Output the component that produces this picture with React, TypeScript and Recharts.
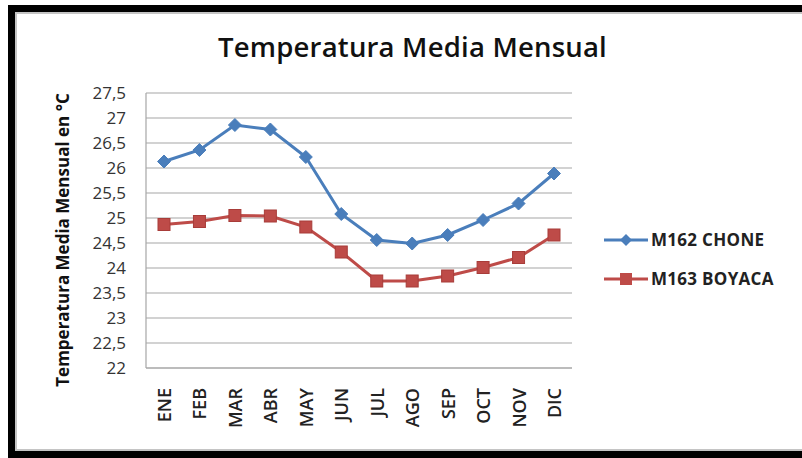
import React from "react";
import { LineChart, Line, XAxis, YAxis, CartesianGrid } from "recharts";

const months = ["ENE", "FEB", "MAR", "ABR", "MAY", "JUN", "JUL", "AGO", "SEP", "OCT", "NOV", "DIC"];
const chone = [26.13, 26.36, 26.86, 26.77, 26.22, 25.08, 24.56, 24.49, 24.66, 24.96, 25.29, 25.89];
const boyaca = [24.87, 24.93, 25.05, 25.04, 24.82, 24.32, 23.74, 23.74, 23.84, 24.01, 24.21, 24.66];
const yTicks = [22, 22.5, 23, 23.5, 24, 24.5, 25, 25.5, 26, 26.5, 27, 27.5];
const seriesNames = ["M162 CHONE", "M163 BOYACA"];

const data = months.map((m, i) => ({ month: m, chone: chone[i], boyaca: boyaca[i] }));

const BLUE = "#4a7ebb";
const RED = "#be4b48";
const FONT = "'Open Sans', Lato, sans-serif";

const Diamond = (props: any) => {
  const { cx, cy } = props;
  if (cx == null || cy == null) return null;
  const r = 6.5;
  return (
    <polygon
      points={`${cx},${cy - r} ${cx + r},${cy} ${cx},${cy + r} ${cx - r},${cy}`}
      fill={BLUE}
      stroke={BLUE}
      strokeWidth={1}
    />
  );
};

const Square = (props: any) => {
  const { cx, cy } = props;
  if (cx == null || cy == null) return null;
  const s = 12;
  return <rect x={cx - s / 2} y={cy - s / 2} width={s} height={s} fill={RED} stroke="#a83c39" strokeWidth={1} />;
};

const XTick = (props: any) => {
  const { x, y, payload } = props;
  return (
    <text
      x={x}
      y={y}
      transform={`rotate(-90, ${x}, ${y})`}
      textAnchor="end"
      dominantBaseline="central"
      fontFamily={FONT}
      fontSize={18}
      fontWeight={600}
      fill="#222"
    >
      {payload.value}
    </text>
  );
};

const fmt = (v: number) => String(v).replace(".", ",");

const LegendBox = () => (
  <div
    style={{
      position: "absolute",
      left: 603,
      top: 220,
      fontFamily: FONT,
      fontWeight: 700,
      fontSize: 17,
      letterSpacing: 0.3,
      color: "#222",
    }}
  >
    {seriesNames.map((n, i) => (
      <div key={n} style={{ display: "flex", alignItems: "center", height: 39 }}>
        <svg width={46} height={14} style={{ marginRight: 2 }}>
          <line x1={1} y1={7} x2={45} y2={7} stroke={i === 0 ? BLUE : RED} strokeWidth={3} />
          {i === 0 ? (
            <polygon points="23,1 29,7 23,13 17,7" fill={BLUE} />
          ) : (
            <rect x={17} y={1} width={12} height={12} fill={RED} />
          )}
        </svg>
        <span>{n}</span>
      </div>
    ))}
  </div>
);

export default function App() {
  return (
    <div style={{ position: "fixed", left: 0, top: 0, width: 802, height: 458, overflow: "hidden", background: "#fff" }}>
      <div
        style={{
          position: "absolute",
          left: 8,
          top: 5,
          width: 820,
          height: 453,
          boxSizing: "border-box",
          border: "7px solid #000",
        }}
      >
        <div style={{ width: "100%", height: "100%", boxSizing: "border-box", border: "2px solid #c4c4c4" }} />
      </div>
      <div
        style={{
          position: "absolute",
          left: 218,
          top: 29,
          whiteSpace: "nowrap",
          fontFamily: FONT,
          fontSize: 27.5,
          fontWeight: 600,
          letterSpacing: 0.2,
          lineHeight: "36px",
          color: "#111",
        }}
      >
        Temperatura Media Mensual
      </div>
      <div style={{ position: "absolute", left: 0, top: 0 }}>
        <LineChart width={802} height={458} data={data} margin={{ top: 93, right: 230, bottom: 0, left: 0 }}>
          <CartesianGrid vertical={false} stroke="#a6a6a6" strokeWidth={1.2} />
          <XAxis
            dataKey="month"
            height={90}
            interval={0}
            padding={{ left: 18, right: 18 }}
            tick={<XTick />}
            tickLine={false}
            tickSize={0}
            tickMargin={20}
            axisLine={{ stroke: "#a6a6a6", strokeWidth: 1.2 }}
          />
          <YAxis
            width={146}
            domain={[22, 27.5]}
            ticks={yTicks}
            interval={0}
            tickFormatter={fmt}
            tickLine={false}
            tickSize={0}
            tickMargin={20}
            axisLine={{ stroke: "#a6a6a6", strokeWidth: 1.2 }}
            tick={{ fontFamily: FONT, fontSize: 17, fill: "#333" }}
            label={{
              content: () => (
                <text
                  x={62}
                  y={240}
                  transform="rotate(-90, 62, 240)"
                  textAnchor="middle"
                  dominantBaseline="central"
                  fontFamily={FONT}
                  fontWeight={700}
                  fontSize={17}
                  fill="#111"
                >
                  Temperatura Media Mensual en °C
                </text>
              ),
            }}
          />
          <Line
            dataKey="chone"
            name={seriesNames[0]}
            stroke={BLUE}
            strokeWidth={3}
            dot={<Diamond />}
            isAnimationActive={false}
          />
          <Line
            dataKey="boyaca"
            name={seriesNames[1]}
            stroke={RED}
            strokeWidth={3}
            dot={<Square />}
            isAnimationActive={false}
          />
        </LineChart>
      </div>
      <LegendBox />
    </div>
  );
}
